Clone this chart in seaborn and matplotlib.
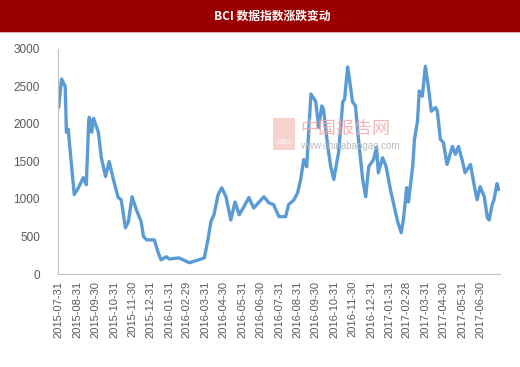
import pandas as pd
import matplotlib
matplotlib.use("Agg")
import matplotlib.pyplot as plt
import matplotlib.dates as mdates
import seaborn as sns

# ===== DONNEES =====
dates = [
    "2015-07-31", "2015-08-05", "2015-08-11", "2015-08-13", "2015-08-16", "2015-08-21",
    "2015-08-26", "2015-09-02", "2015-09-10", "2015-09-15", "2015-09-19", "2015-09-20",
    "2015-09-24", "2015-09-27", "2015-10-05", "2015-10-10", "2015-10-17", "2015-10-23",
    "2015-10-30", "2015-11-07", "2015-11-12", "2015-11-19", "2015-11-24", "2015-11-30",
    "2015-12-07", "2015-12-15", "2015-12-19", "2015-12-24", "2016-01-06", "2016-01-12",
    "2016-01-17", "2016-01-26", "2016-01-31", "2016-02-16", "2016-03-04", "2016-03-20",
    "2016-03-29", "2016-04-04", "2016-04-09", "2016-04-14", "2016-04-21", "2016-04-27",
    "2016-05-04", "2016-05-12", "2016-05-19", "2016-05-26", "2016-06-03", "2016-06-11",
    "2016-06-19", "2016-06-28", "2016-07-06", "2016-07-14", "2016-07-22", "2016-07-31",
    "2016-08-11", "2016-08-16", "2016-08-25", "2016-08-31", "2016-09-05", "2016-09-10",
    "2016-09-15", "2016-09-22", "2016-09-30", "2016-10-05", "2016-10-10", "2016-10-13",
    "2016-10-20", "2016-10-25", "2016-10-30", "2016-11-04", "2016-11-07", "2016-11-14",
    "2016-11-17", "2016-11-22", "2016-11-25", "2016-11-30", "2016-12-05", "2016-12-10",
    "2016-12-17", "2016-12-22", "2016-12-27", "2017-01-04", "2017-01-09", "2017-01-12",
    "2017-01-19", "2017-01-25", "2017-02-01", "2017-02-06", "2017-02-13", "2017-02-19",
    "2017-02-23", "2017-02-28", "2017-03-03", "2017-03-10", "2017-03-13", "2017-03-18",
    "2017-03-21", "2017-03-26", "2017-03-31", "2017-04-05", "2017-04-10", "2017-04-17",
    "2017-04-20", "2017-04-25", "2017-04-30", "2017-05-06", "2017-05-15", "2017-05-20",
    "2017-05-25", "2017-05-31", "2017-06-05", "2017-06-14", "2017-06-20", "2017-06-25",
    "2017-06-30", "2017-07-07", "2017-07-12", "2017-07-15", "2017-07-20", "2017-07-23",
    "2017-07-28", "2017-07-31",
]
bci = [
    2220, 2600, 2500, 1890, 1930, 1490,
    1060, 1150, 1285, 1190, 2035, 2090,
    1890, 2075, 1890, 1550, 1300, 1500,
    1260, 1020, 990, 615, 700, 1030,
    860, 700, 500, 455, 455, 295,
    190, 230, 200, 215, 150, 190,
    215, 455, 700, 790, 1060, 1150,
    1030, 720, 960, 790, 900, 1020,
    880, 960, 1030, 950, 925, 765,
    765, 925, 990, 1085, 1260, 1525,
    1430, 2400, 2300, 1955, 2240, 2195,
    1700, 1430, 1260, 1490, 1620, 2300,
    2330, 2760, 2600, 2300, 2240, 1795,
    1260, 1030, 1430, 1525, 1690, 1350,
    1550, 1430, 1125, 950, 700, 550,
    750, 1150, 960, 1430, 1795, 2035,
    2440, 2370, 2770, 2500, 2170, 2220,
    2170, 1795, 1755, 1460, 1700, 1595,
    1700, 1525, 1350, 1460, 1190, 990,
    1165, 1030, 750, 720, 925, 990,
    1205, 1125,
]
tick_dates = pd.date_range("2015-07-31", "2017-06-30", freq="ME")
titre = "BCI 数据指数涨跌变动"

df = pd.DataFrame({"date": pd.to_datetime(dates), "bci": bci})

# ===== STYLE =====
sns.set_style("white")
plt.rcParams["font.family"] = ["Liberation Sans", "Noto Sans CJK SC", "DejaVu Sans"]

fig = plt.figure(figsize=(5.2, 3.67), dpi=100)

# bandeau du titre
fig.patches.append(plt.Rectangle((0, 0.913), 1, 0.087, transform=fig.transFigure,
                                 facecolor="#9B0000", edgecolor="none", zorder=0))
fig.patches.append(plt.Rectangle((0, 0.909), 1, 0.005, transform=fig.transFigure,
                                 facecolor="#E8B0B0", edgecolor="none", zorder=0))
fig.text(0.523, 0.957, titre, color="white", fontsize=8.5, fontweight="bold",
         ha="center", va="center", family=["Noto Sans CJK SC", "DejaVu Sans"])

ax = fig.add_axes([0.1115, 0.2534, 0.85, 0.6131])
sns.lineplot(data=df, x="date", y="bci", ax=ax, color="#5B9BD5", linewidth=2.4)

ax.set_ylim(0, 3000)
ax.set_yticks(range(0, 3001, 500))
ax.set_xlim(pd.Timestamp("2015-07-30"), pd.Timestamp("2017-08-02"))
ax.set_xticks(tick_dates)
ax.xaxis.set_major_formatter(mdates.DateFormatter("%Y-%m-%d"))
ax.set_xlabel("")
ax.set_ylabel("")

for s in ["top", "right"]:
    ax.spines[s].set_visible(False)
for s in ["left", "bottom"]:
    ax.spines[s].set_color("#BFBFBF")
    ax.spines[s].set_linewidth(0.8)

ax.tick_params(axis="x", labelrotation=90, labelsize=8, colors="#595959",
               length=0, pad=5)
ax.tick_params(axis="y", labelsize=8.5, colors="#595959", length=3,
               direction="out", pad=10)

# filigrane
fig.patches.append(plt.Rectangle((273 / 520, 1 - 150 / 367), 22 / 520, 32 / 367,
                                 transform=fig.transFigure, facecolor="#F4C7C0",
                                 edgecolor="none", alpha=0.8, zorder=3))
fig.text(284 / 520, 1 - 143 / 367, "CBG", color="white", fontsize=5,
         ha="center", va="center", zorder=4)
fig.text(300 / 520, 1 - 129 / 367, "中国报告网", color="#F2A8A8", fontsize=13,
         ha="left", va="center", family=["Noto Sans CJK SC", "DejaVu Sans"],
         alpha=0.85, zorder=4)
fig.text(300 / 520, 1 - 146 / 367, "www.chinabaogao.com", color="#BBBBBB",
         fontsize=7, ha="left", va="center", zorder=4)

fig.savefig("out.png", dpi=100)
